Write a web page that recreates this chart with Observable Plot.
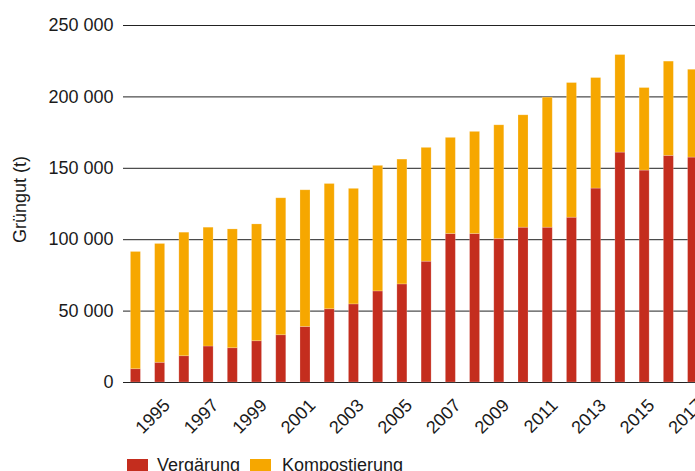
<!DOCTYPE html>
<html>
<head>
<meta charset="utf-8">
<script src="https://cdn.jsdelivr.net/npm/d3@7"></script>
<script src="https://cdn.jsdelivr.net/npm/@observablehq/plot@0.6"></script>
<style>
  html, body { margin: 0; padding: 0; background: #fff; overflow: hidden; width: 695px; height: 471px; }
  #wrap { position: relative; width: 695px; height: 471px; overflow: hidden; font-family: "Liberation Sans", Arial, sans-serif; color: #1a1a1a; }
  #chart { position: absolute; left: 0; top: 0; width: 705px; }
  #chart svg { max-width: none !important; }
  .sw { position: absolute; width: 21px; height: 15px; top: 459px; }
  .lt { position: absolute; top: 456px; font-size: 18px; line-height: 18px; white-space: nowrap; }
</style>
</head>
<body>
<div id="wrap">
  <div id="chart"></div>
  <div id="legend"></div>
</div>
<script>
const years = [1994, 1995, 1996, 1997, 1998, 1999, 2000, 2001, 2002, 2003, 2004, 2005,
               2006, 2007, 2008, 2009, 2010, 2011, 2012, 2013, 2014, 2015, 2016, 2017];
const vergaerung = [9300, 13800, 18400, 25200, 24000, 28900, 33100, 38900, 51300, 54700, 63800, 68700,
                    84600, 104000, 104000, 100500, 108400, 108400, 115400, 135800, 161000, 148400, 158700, 157500];
const kompostierung = [82100, 83200, 86500, 83200, 83200, 81800, 95900, 95700, 87700, 80900, 87900, 87400,
                       79700, 67300, 71500, 79600, 78700, 91100, 94300, 77400, 68300, 57800, 66000, 61500];
const seriesNames = ["Vergärung", "Kompostierung"];
const seriesColors = ["#c42d1e", "#f6a700"];
const yTicks = [0, 50000, 100000, 150000, 200000, 250000];
const xTickYears = [1995, 1997, 1999, 2001, 2003, 2005, 2007, 2009, 2011, 2013, 2015, 2017];
const yLabel = "Grüngut (t)";

const rows = [];
years.forEach((y, i) => {
  rows.push({year: y, series: seriesNames[0], value: vergaerung[i]});
  rows.push({year: y, series: seriesNames[1], value: kompostierung[i]});
});

const fmt = d => d3.format(",")(d).replace(/,/g, " ");

const plot = Plot.plot({
  width: 705,
  height: 442,
  marginLeft: 123,
  marginRight: 0,
  marginTop: 25,
  marginBottom: 60,
  style: {fontFamily: "'Liberation Sans', Arial, sans-serif", fontSize: "18px", color: "#1a1a1a", background: "#fff", maxWidth: "none"},
  x: {type: "band", domain: years, paddingInner: 0.587, paddingOuter: 0.306, round: false, label: null},
  y: {domain: [0, 250000], label: null},
  color: {domain: seriesNames, range: seriesColors},
  marks: [
    Plot.ruleY(yTicks, {stroke: "#222", strokeWidth: 1}),
    Plot.barY(rows, {x: "year", y: "value", fill: "series", stroke: "#fff", strokeOpacity: 0.25, strokeWidth: 0.8}),
    Plot.axisY({ticks: yTicks, tickFormat: fmt, tickSize: 0, tickPadding: 10, label: null}),
    Plot.axisX({ticks: xTickYears, tickFormat: d => String(d), tickSize: 0, tickPadding: 0,
                tickRotate: -45, textAnchor: "end", lineAnchor: "bottom", dx: 11, dy: 24, label: null}),
    Plot.text([yLabel], {frameAnchor: "left", rotate: -90, textAnchor: "middle", lineAnchor: "bottom",
                         dx: -98, dy: -4.5, fontSize: 18})
  ]
});
plot.style.maxWidth = "none";
document.getElementById("chart").appendChild(plot);

const legendX = [[127, 157], [250, 282]];
const legend = document.getElementById("legend");
seriesNames.forEach((name, i) => {
  const sw = document.createElement("div");
  sw.className = "sw";
  sw.style.left = legendX[i][0] + "px";
  sw.style.background = seriesColors[i];
  legend.appendChild(sw);
  const t = document.createElement("div");
  t.className = "lt";
  t.style.left = legendX[i][1] + "px";
  t.textContent = name;
  legend.appendChild(t);
});
</script>
</body>
</html>
